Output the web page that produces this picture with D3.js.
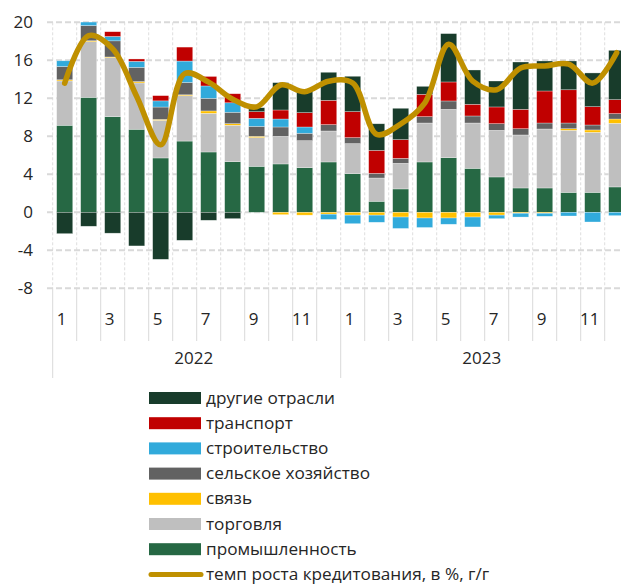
<!DOCTYPE html>
<html>
<head>
<meta charset="utf-8">
<script src="https://cdn.jsdelivr.net/npm/d3@7"></script>
<style>
  body { margin: 0; background: #fff; }
  svg { display: block; font-family: "Open Sans", sans-serif; }
</style>
</head>
<body>
<svg id="chart" width="621" height="585"></svg>
<script>
// months, two years
var monthLabels = ["1","2","3","4","5","6","7","8","9","10","11","12",
                   "1","2","3","4","5","6","7","8","9","10","11","12"];
var years = ["2022", "2023"];

// contributions, p.p.
var industry  = [9.16, 12.1, 10.07, 8.74, 5.72, 7.5, 6.35, 5.33, 4.84, 5.09, 4.7, 5.3,
                 4.07, 1.16, 2.46, 5.3, 5.75, 4.63, 3.72, 2.56, 2.56, 2.1, 2.1, 2.67];
var trade     = [4.67, 5.86, 6.21, 4.88, 3.96, 4.77, 4.07, 3.83, 3.02, 2.91, 2.84, 3.26,
                 3.16, 2.45, 2.7, 4.1, 5.09, 4.77, 4.91, 5.58, 6.21, 6.53, 6.32, 6.7];
var telecom   = [0.12, 0.1, 0.07, 0.14, 0.1, 0.1, 0.25, 0.17, 0.14, -0.25, -0.3, -0.2,
                 -0.3, -0.3, -0.5, -0.6, -0.6, -0.5, -0.3, -0.1, -0.1, 0.17, 0.25, 0.45];
var agri      = [1.4, 1.6, 1.7, 1.5, 1.3, 1.3, 1.33, 1.2, 1.05, 0.98, 0.78, 0.67,
                 0.63, 0.49, 0.52, 0.67, 0.88, 0.74, 0.7, 0.66, 0.63, 0.6, 0.52, 0.57];
var construct = [0.6, 0.5, 0.46, 0.63, 0.65, 2.25, 1.3, 1.0, 0.84, 0.84, 0.66, -0.55,
                 -0.9, -0.75, -1.2, -1.0, -0.66, -1.04, -0.37, -0.4, -0.32, -0.39, -1.02, -0.35];
var transport = [0, 0, 0.5, 0.25, 0.55, 1.47, 1.0, 0.95, 0.7, 0.95, 1.51, 2.56,
                 2.74, 2.42, 1.97, 2.35, 2.0, 1.23, 1.76, 2.04, 3.37, 3.5, 1.93, 1.47];
var other     = [-2.25, -1.47, -2.2, -3.54, -4.95, -2.95, -0.84, -0.67, 0.42, 2.88, 2.46, 2.95,
                 3.72, 2.8, 3.3, 0.84, 5.09, 3.61, 2.73, 4.98, 3.16, 3.03, 3.55, 5.19];

// credit growth, % y/y
var creditGrowth = [13.6, 18.6, 17.2, 12.2, 7.1, 14.6, 13.7, 11.9, 11.1, 13.4, 12.7, 13.8,
                    13.6, 8.2, 9.3, 11.5, 17.7, 13.8, 12.9, 15.2, 15.4, 15.6, 13.6, 16.8];

var yTicks = [20, 16, 12, 8, 4, 0, -4, -8];

var seriesKeys = ["industry", "trade", "telecom", "agri", "construct", "transport", "other"];
var seriesData = {industry: industry, trade: trade, telecom: telecom, agri: agri,
                  construct: construct, transport: transport, other: other};
var seriesNames = {industry: "промышленность", trade: "торговля", telecom: "связь",
                   agri: "сельское хозяйство", construct: "строительство",
                   transport: "транспорт", other: "другие отрасли"};
var seriesColors = {industry: "#266844", trade: "#bfbfbf", telecom: "#ffc000",
                    agri: "#626262", construct: "#31aadb", transport: "#c00000", other: "#183c2b"};
var lineColor = "#bf9000";
var textColor = "#262626";

var svg = d3.select("#chart");

var plotLeft = 52.7, plotRight = 628.7, plotTop = 22.3, plotBottom = 288.3;

var x = d3.scaleBand()
    .domain(d3.range(monthLabels.length))
    .range([plotLeft, plotRight])
    .paddingInner(0.33)
    .paddingOuter(0.165);

var step = (plotRight - plotLeft) / monthLabels.length;

var y = d3.scaleLinear()
    .domain([-8, 20])
    .range([plotBottom, plotTop]);

// table for stacking
var rows = monthLabels.map(function(m, i){
    var r = {i: i};
    seriesKeys.forEach(function(k){ r[k] = seriesData[k][i]; });
    return r;
});

var stacked = d3.stack()
    .keys(seriesKeys)
    .offset(d3.stackOffsetDiverging)(rows);

// vertical grid lines
var vLines = d3.range(monthLabels.length + 1);
svg.append("g")
  .selectAll("line")
  .data(vLines)
  .join("line")
    .attr("x1", function(d){ return plotLeft + d * step; })
    .attr("x2", function(d){ return plotLeft + d * step; })
    .attr("y1", plotTop)
    .attr("y2", plotBottom)
    .attr("stroke", "#dedede")
    .attr("stroke-width", 1)
    .attr("stroke-dasharray", "3,2");

// tick lines in label area
svg.append("g")
  .selectAll("line")
  .data(vLines)
  .join("line")
    .attr("x1", function(d){ return plotLeft + d * step; })
    .attr("x2", function(d){ return plotLeft + d * step; })
    .attr("y1", plotBottom)
    .attr("y2", function(d){ return d % 12 == 0 ? 378 : 341; })
    .attr("stroke", "#d9d9d9")
    .attr("stroke-width", 1);

// horizontal grid lines
svg.append("g")
  .selectAll("line")
  .data(yTicks)
  .join("line")
    .attr("x1", 47)
    .attr("x2", 621)
    .attr("y1", function(d){ return y(d); })
    .attr("y2", function(d){ return y(d); })
    .attr("stroke", "#d9d9d9")
    .attr("stroke-width", 2)
    .attr("stroke-dasharray", "6,3");

// y labels
svg.append("g")
  .selectAll("text")
  .data(yTicks)
  .join("text")
    .attr("x", 33)
    .attr("y", function(d){ return y(d); })
    .attr("dy", "0.35em")
    .attr("text-anchor", "end")
    .attr("font-size", 17)
    .attr("fill", textColor)
    .text(function(d){ return d; });

// clip
svg.append("clipPath").attr("id", "plotclip")
  .append("rect")
    .attr("x", 0).attr("y", plotTop)
    .attr("width", 621).attr("height", plotBottom - plotTop);

// bars
svg.append("g")
    .attr("clip-path", "url(#plotclip)")
  .selectAll("g")
  .data(stacked)
  .join("g")
    .attr("fill", function(s){ return seriesColors[s.key]; })
  .selectAll("rect")
  .data(function(s){ return s; })
  .join("rect")
    .attr("x", function(d){ return x(d.data.i); })
    .attr("width", x.bandwidth())
    .attr("y", function(d){ return y(Math.max(d[0], d[1])); })
    .attr("height", function(d){ return Math.abs(y(d[0]) - y(d[1])); })
    .attr("stroke", "#ffffff")
    .attr("stroke-opacity", 0.5)
    .attr("stroke-width", 0.6);

// credit growth line
var line = d3.line()
    .x(function(d, i){ return x(i) + x.bandwidth() / 2; })
    .y(function(d){ return y(d); })
    .curve(d3.curveCatmullRom.alpha(0.5));

svg.append("path")
    .datum(creditGrowth)
    .attr("d", line)
    .attr("fill", "none")
    .attr("stroke", lineColor)
    .attr("stroke-width", 5.5)
    .attr("stroke-linecap", "round")
    .attr("stroke-linejoin", "round");

// month labels
svg.append("g")
  .selectAll("text")
  .data(monthLabels.map(function(m, i){ return {m: m, i: i}; })
        .filter(function(d){ return d.i % 2 == 0; }))
  .join("text")
    .attr("x", function(d){ return x(d.i) + x.bandwidth() / 2 - 3; })
    .attr("y", 319)
    .attr("dy", "0.35em")
    .attr("text-anchor", "middle")
    .attr("font-size", 17)
    .attr("fill", textColor)
    .text(function(d){ return d.m; });

// year labels
svg.append("g")
  .selectAll("text")
  .data(years)
  .join("text")
    .attr("x", function(d, i){ return plotLeft + (i * 12 + 6) * step - 3; })
    .attr("y", 358)
    .attr("dy", "0.35em")
    .attr("text-anchor", "middle")
    .attr("font-size", 17)
    .attr("fill", textColor)
    .text(function(d){ return d; });

// legend
var legendKeys = seriesKeys.slice().reverse();
var legend = svg.append("g");
var legendY0 = 398, legendStep = 25.2;

legend.selectAll("rect")
  .data(legendKeys)
  .join("rect")
    .attr("x", 149)
    .attr("y", function(d, i){ return legendY0 + i * legendStep - 6; })
    .attr("width", 52)
    .attr("height", 12)
    .attr("fill", function(d){ return seriesColors[d]; });

legend.append("line")
    .attr("x1", 151)
    .attr("x2", 201)
    .attr("y1", legendY0 + 7 * legendStep)
    .attr("y2", legendY0 + 7 * legendStep)
    .attr("stroke", lineColor)
    .attr("stroke-width", 5)
    .attr("stroke-linecap", "round");

legend.selectAll("text")
  .data(legendKeys.map(function(k){ return seriesNames[k]; })
        .concat(["темп роста кредитования, в %, г/г"]))
  .join("text")
    .attr("x", 206)
    .attr("y", function(d, i){ return legendY0 + i * legendStep; })
    .attr("dy", "0.32em")
    .attr("font-size", 17.2)
    .attr("fill", textColor)
    .text(function(d){ return d; });
</script>
</body>
</html>
